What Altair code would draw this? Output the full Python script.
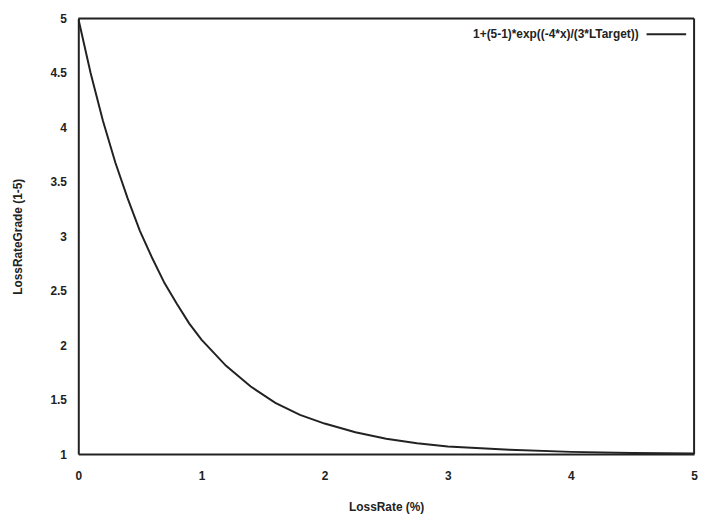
import altair as alt
import pandas as pd

loss_rate = [0.0, 0.1, 0.2, 0.3, 0.4, 0.5, 0.6, 0.7, 0.8, 0.9, 1.0, 1.2, 1.4, 1.6, 1.8,
             2.0, 2.25, 2.5, 2.75, 3.0, 3.5, 4.0, 4.5, 5.0]
grade = [5.0, 4.50, 4.06, 3.68, 3.35, 3.05, 2.80, 2.57, 2.38, 2.20, 2.05, 1.81, 1.62,
         1.47, 1.36, 1.28, 1.20, 1.14, 1.10, 1.07, 1.04, 1.02, 1.01, 1.005]
legend_label = ["1+(5-1)*exp((-4*x)/(3*LTarget))"]
x_ticks = [0, 1, 2, 3, 4, 5]
y_ticks = [1, 1.5, 2, 2.5, 3, 3.5, 4, 4.5, 5]

df = pd.DataFrame({"x": loss_rate, "y": grade})
FONT = "Liberation Sans"

W, H = 622, 440

curve = alt.Chart(df).mark_line(color="#222222", strokeWidth=2, clip=True).encode(
    x=alt.X("x:Q", scale=alt.Scale(domain=[0, 5], nice=False),
            axis=alt.Axis(values=x_ticks, title="LossRate (%)", grid=False, ticks=False,
                          format="~g",
                          labelPadding=17, titlePadding=20, labelFontWeight="bold",
                          titleFontWeight="bold", labelFontSize=12, titleFontSize=12,
                          labelFont=FONT, titleFont=FONT, labelColor="#222",
                          titleColor="#222", domainColor="#222", domainWidth=2,
                          labelFlush=False)),
    y=alt.Y("y:Q", scale=alt.Scale(domain=[1, 5], nice=False, zero=False),
            axis=alt.Axis(values=y_ticks, title="LossRateGrade (1-5)", grid=False,
                          ticks=False, labelPadding=12, format="~g",
                          titlePadding=26,
                          labelFontWeight="bold", titleFontWeight="bold",
                          labelFontSize=12, titleFontSize=12, labelFont=FONT,
                          titleFont=FONT, labelColor="#222", titleColor="#222",
                          domainColor="#222", domainWidth=2, labelFlush=False)),
)

leg_df = pd.DataFrame({"label": legend_label})
leg_text = alt.Chart(leg_df).mark_text(
    align="right", baseline="middle", font=FONT, fontSize=12, fontWeight="bold",
    color="#222"
).encode(text="label:N", x=alt.value(566), y=alt.value(16))
leg_line = alt.Chart(leg_df).mark_rule(color="#222222", strokeWidth=2).encode(
    x=alt.value(574), x2=alt.value(614), y=alt.value(16)
)
top_border = alt.Chart(leg_df).mark_rule(color="#222222", strokeWidth=2).encode(
    x=alt.value(0), x2=alt.value(W), y=alt.value(0)
)
right_border = alt.Chart(leg_df).mark_rule(color="#222222", strokeWidth=2).encode(
    x=alt.value(W), y=alt.value(0), y2=alt.value(H)
)

chart = alt.layer(curve, leg_text, leg_line, top_border, right_border).properties(
    width=W, height=H,
    autosize=alt.AutoSizeParams(type="none"),
    padding={"left": 71, "top": 8, "right": 8, "bottom": 60},
).configure_view(stroke=None).configure(background="white")

chart.save("out.html", embed_options={"renderer": "svg", "actions": False})
